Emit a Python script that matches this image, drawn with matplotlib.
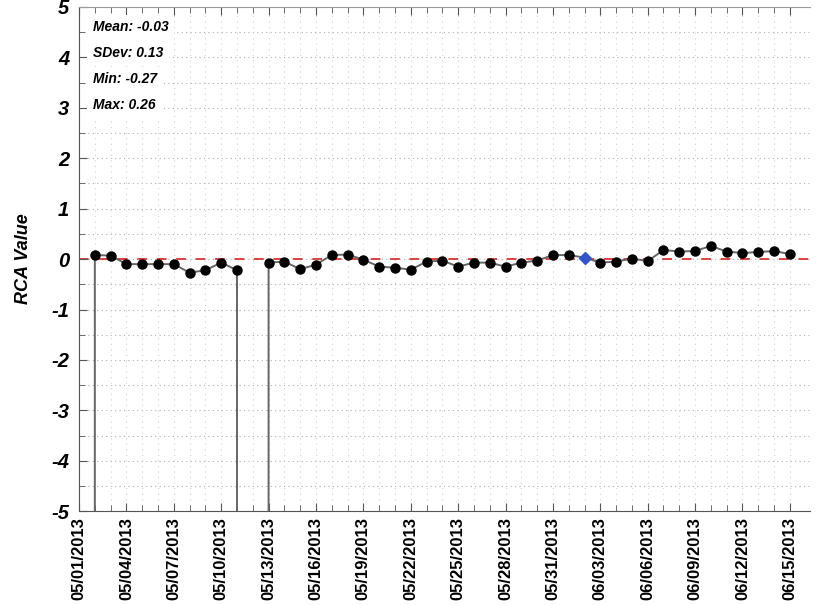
import numpy as np
import pandas as pd
import matplotlib
matplotlib.use("Agg")
import matplotlib.pyplot as plt
import matplotlib.dates as mdates
from matplotlib.ticker import MultipleLocator

plt.rcParams['font.family'] = ['Liberation Sans', 'DejaVu Sans']
plt.rcParams['axes.unicode_minus'] = False

# daily RCA values, 05/01 - 06/15/2013; FILL marks days with no valid value
FILL = -9999.0
dates = pd.date_range("2013-05-01", "2013-06-15", freq="D")
rca = [FILL, 0.08, 0.07, -0.10, -0.10, -0.10, -0.10, -0.27, -0.22, -0.07,
       -0.22, FILL, -0.07, -0.05, -0.20, -0.11, 0.08, 0.09, -0.01, -0.15,
       -0.17, -0.21, -0.05, -0.03, -0.15, -0.07, -0.07, -0.15, -0.07, -0.03,
       0.08, 0.08, 0.03, -0.07, -0.05, 0.01, -0.04, 0.18, 0.15, 0.16,
       0.26, 0.15, 0.12, 0.14, 0.16, 0.10]
highlight_date = "2013-06-02"
stats = [("Mean", -0.03), ("SDev", 0.13), ("Min", -0.27), ("Max", 0.26)]

x = mdates.date2num(dates.to_pydatetime())
y = np.array(rca)
valid = y > FILL
hl = dates == pd.Timestamp(highlight_date)

fig = plt.figure(figsize=(8.19, 6.05), dpi=100)
ax = fig.add_axes([0.0965, 0.155, 0.893, 0.8335])

# dotted background grid
for gy in np.arange(-5, 5.01, 0.5):
    ax.axhline(gy, color='#b0b0b0', lw=0.8, ls=(0, (1, 3)), zorder=0)
for gx in x:
    ax.axvline(gx, color='#d0d0d0', lw=0.8, ls=(0, (1, 4)), zorder=0)

ax.axhline(0, color='#e04040', lw=1.4, ls=(0, (5, 5)), zorder=1)

ax.plot(x, y, color='#666666', lw=1.4, zorder=2)
ax.plot(x[valid & ~hl], y[valid & ~hl], 'o', color='black', ms=6.5, zorder=3)
ax.plot(x[hl], y[hl], 'D', color='#3355cc', ms=6, zorder=4)

ax.set_ylim(-5, 5)
ax.set_xlim(x[0], x[0] + 46.3)

ax.yaxis.set_major_locator(MultipleLocator(1))
ax.yaxis.set_minor_locator(MultipleLocator(0.5))
ax.set_xticks(x[::3])
ax.xaxis.set_major_formatter(mdates.DateFormatter('%m/%d/%Y'))
ax.set_xticks(x, minor=True)

ax.tick_params(axis='both', which='both', direction='in', color='#555555')
ax.tick_params(axis='both', which='major', length=6)
ax.tick_params(axis='both', which='minor', length=4)
ax.tick_params(axis='x', which='both', top=True)
ax.tick_params(axis='x', which='major', labelsize=12, pad=4)
ax.tick_params(axis='y', which='major', labelsize=14.5, pad=7)

for lab in ax.get_xticklabels():
    lab.set_rotation(90)
    lab.set_fontweight('bold')
for lab in ax.get_yticklabels():
    lab.set_fontweight('bold')
    lab.set_fontstyle('italic')

ax.spines['right'].set_visible(False)
ax.spines['top'].set_color('#9a9a9a')
ax.spines['left'].set_color('#555555')
ax.spines['bottom'].set_color('#555555')

ax.set_ylabel('RCA Value', fontsize=13, fontweight='bold', fontstyle='italic',
              labelpad=14)

# summary statistics in the upper-left corner
for i, (name, val) in enumerate(stats):
    ax.text(0.019, 0.960 - i * 0.0515, f"{name}: {val:.2f}", transform=ax.transAxes,
            fontsize=10, fontweight='bold', fontstyle='italic', va='center',
            ha='left', zorder=5,
            bbox=dict(facecolor='white', edgecolor='none', pad=4))

fig.savefig('out.png', dpi=100)
